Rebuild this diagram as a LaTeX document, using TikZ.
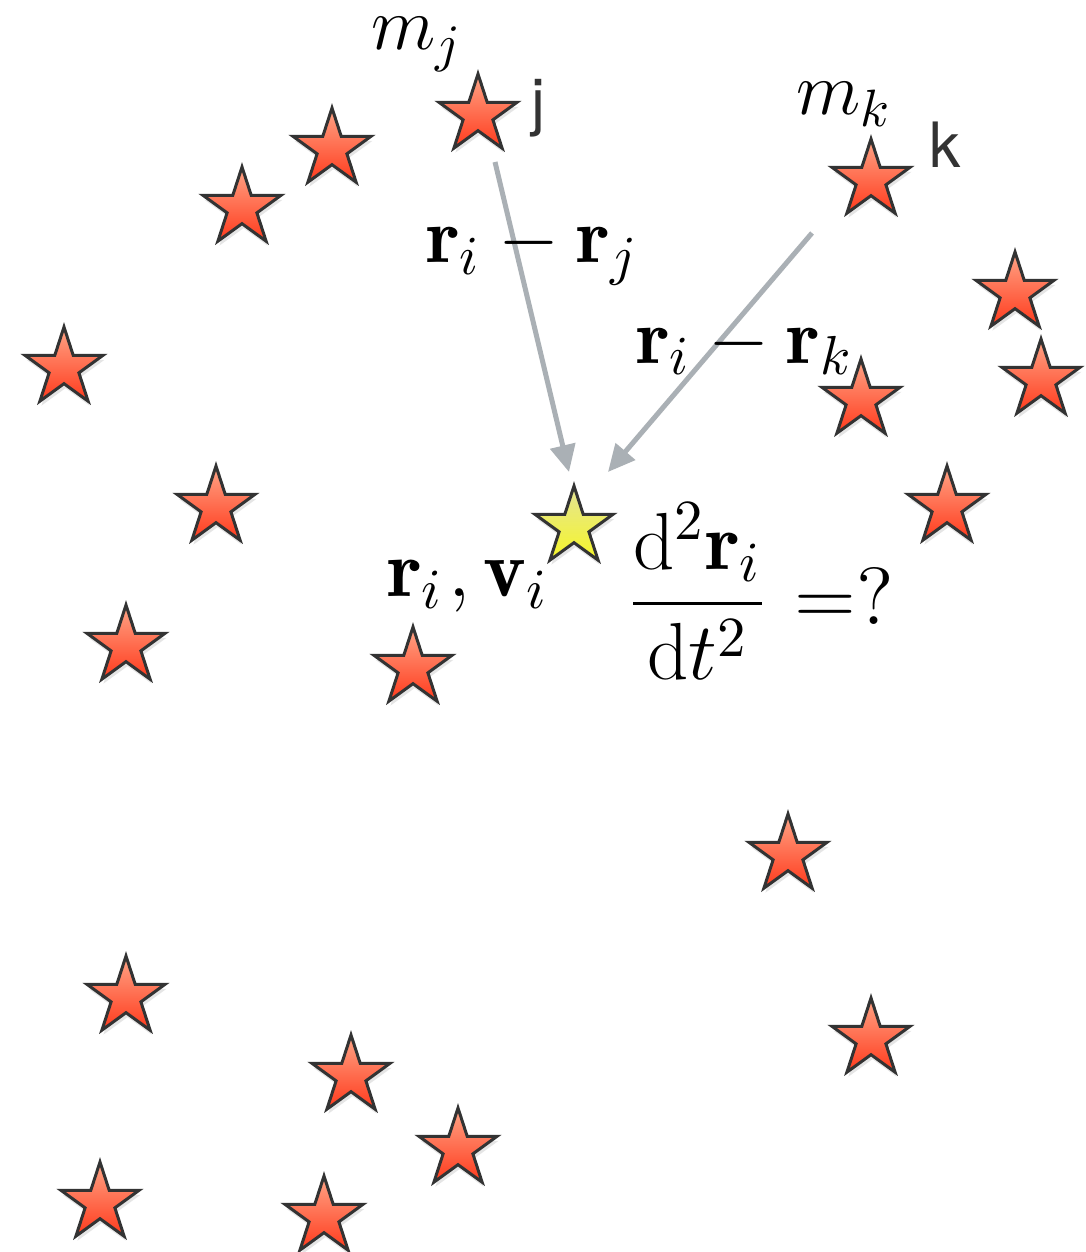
\RequirePackage{fix-cm}
\documentclass[tikz,border=0pt]{standalone}
\usepackage{amsmath}
\usepackage{fontspec}
\newfontfamily\hvfont{TeX Gyre Heros}
\usetikzlibrary{shapes.geometric,shadows,arrows.meta}
\definecolor{starline}{HTML}{333333}
\definecolor{redtop}{RGB}{255,165,135}
\definecolor{redbot}{RGB}{255,58,28}
\definecolor{yeltop}{RGB}{228,228,150}
\definecolor{yelbot}{RGB}{246,246,40}
\definecolor{arrowgray}{RGB}{170,176,181}
\definecolor{labelgray}{HTML}{333333}
\tikzset{
  starbase/.style={shape=star, star points=5, star point ratio=2.618,
    minimum size=16.4pt, inner sep=0pt, draw=starline, line width=0.6pt,
    drop shadow={opacity=0.2, shadow xshift=0.3pt, shadow yshift=-0.9pt}},
  redstar/.style={starbase, top color=redtop, bottom color=redbot},
  yellowstar/.style={starbase, top color=yeltop, bottom color=yelbot},
  force/.style={draw=arrowgray, line width=1pt, -{Triangle[length=5.4pt,width=5pt]}},
  mathlbl/.style={font=\fontsize{15}{18}\selectfont, inner sep=0pt, anchor=base west},
  bigmath/.style={mathlbl, font=\fontsize{15.7}{19}\selectfont},
  hugemath/.style={mathlbl, font=\fontsize{16.2}{19}\selectfont},
  idlbl/.style={font=\hvfont\fontsize{12.5}{15}\selectfont, text=labelgray, inner sep=0pt, anchor=base west}
}
\begin{document}
\begin{tikzpicture}[x=0.2pt, y=-0.2pt]
\useasboundingbox (0,0) rectangle (1085,1252);
\fill[white] (0,0) rectangle (1085,1252);
% stars
\node[redstar] (sj) at (478,115) {};
\node[redstar] (sk) at (871,180) {};
\node[redstar] (s3) at (332,149) {};
\node[redstar] (s4) at (242,208) {};
\node[redstar] (s5) at (64,368) {};
\node[redstar] (s6) at (216,507) {};
\node[redstar] (s7) at (126,646) {};
\node[redstar] (s8) at (413,668) {};
\node[redstar] (s9) at (1015,293) {};
\node[redstar] (s10) at (1041,380) {};
\node[redstar] (s11) at (861,400) {};
\node[redstar] (s12) at (947,507) {};
\node[redstar] (s13) at (788,855) {};
\node[redstar] (s14) at (871,1039) {};
\node[redstar] (s15) at (126,997) {};
\node[redstar] (s16) at (351,1076) {};
\node[redstar] (s17) at (458,1149) {};
\node[redstar] (s18) at (100,1203) {};
\node[redstar] (s19) at (324,1217) {};
\node[yellowstar] (si) at (574,527) {};
% arrows
\coordinate (ajs) at (495,162);
\coordinate (aje) at (569,472);
\coordinate (aks) at (812,233);
\coordinate (ake) at (608,472);
\draw[force] (ajs) -- (aje);
\draw[force] (aks) -- (ake);
% labels
\node[mathlbl] (mj) at (370,50) {$m_j$};
\node[idlbl] (lj) at (530,124) {j};
\node[mathlbl] (mk) at (795,115) {$m_k$};
\node[idlbl] (lk) at (928,168) {k};
\node[bigmath] (rij) at (425,263) {$\mathbf{r}_i - \mathbf{r}_j$};
\node[bigmath] (rik) at (635,363) {$\mathbf{r}_i - \mathbf{r}_k$};
\node[hugemath] (rv) at (386,596) {$\mathbf{r}_i\mkern1mu, \mathbf{v}_i$};
\node[hugemath] (acc) at (626,624) {$\displaystyle\frac{\mathrm{d}^2\mathbf{r}_i}{\,\mathrm{d}t^2\,}\mkern1mu=?$};
\end{tikzpicture}
\end{document}
